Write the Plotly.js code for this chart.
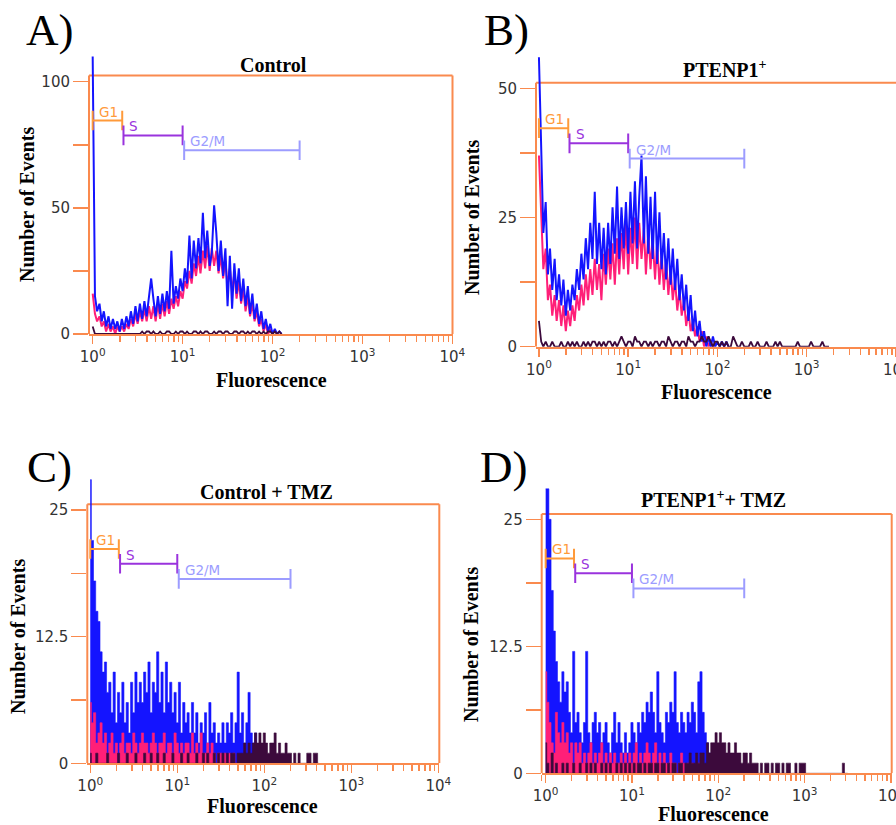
<!DOCTYPE html>
<html><head><meta charset="utf-8">
<script src="https://cdn.plot.ly/plotly-3.0.1.min.js"></script>
<style>html,body{margin:0;padding:0;background:#fff}#chart{width:896px;height:825px}</style>
</head><body><div id="chart"></div>
<script>
// Fluorescence channel positions (shared bins)
const fluorBins = [1.00,1.06,1.12,1.19,1.26,1.33,1.41,1.50,1.58,1.68,
1.78,1.88,2.00,2.11,2.24,2.37,2.51,2.66,2.82,2.99,
3.16,3.35,3.55,3.76,3.98,4.22,4.47,4.73,5.01,5.31,
5.62,5.96,6.31,6.68,7.08,7.50,7.94,8.41,8.91,9.44,
10.0,10.6,11.2,11.9,12.6,13.3,14.1,15.0,15.8,16.8,
17.8,18.8,20.0,21.1,22.4,23.7,25.1,26.6,28.2,29.9,
31.6,33.5,35.5,37.6,39.8,42.2,44.7,47.3,50.1,53.1,
56.2,59.6,63.1,66.8,70.8,75.0,79.4,84.1,89.1,94.4,
100,106,112,119,126,133,141,150,158,168,
178,188,200,211,224,237,251,266,282,299,
316,335,355,376,398,422,447,473,501,531,
562,596,631,668,708,750,794,841,891,944,
1000,1060,1120,1190,1260,1330,1410,1500,1580,1680,
1780,1880,2000,2110,2240,2370,2510,2660,2820,2990,
3160];

// Panel A: Control
const blueA = [110,15,9,12,5,9,3,7,2,6,
2,5,1,6,2,7,3,9,4,11,
5,12,6,13,7,14,22,14,7,15,
8,16,9,17,10,33,12,19,14,22,
17,26,20,39,22,37,26,38,28,48,
30,41,27,32,51,40,25,37,23,34,
11,31,10,28,16,26,13,22,11,19,
8,16,6,12,4,9,2,6,1,4,
0,2,0,1,0];
const pinkA = [16,8,5,7,3,5,1,4,1,3,
0,3,1,3,1,4,2,6,3,8,
4,9,5,10,5,11,6,11,5,12,
6,12,7,13,8,14,10,15,11,17,
14,21,18,25,20,28,23,31,24,33,
26,35,25,34,27,33,24,31,22,29,
19,26,17,24,14,21,12,18,9,15,
7,12,5,9,3,6,1,4,0,2,
0];
const purpleA = [3,0,0,0,0,0,0,0,0,0,
0,0,0,0,0,0,0,0,0,0,
0,0,1,0,1,1,0,1,0,0,
1,0,0,1,1,0,0,1,0,1,
1,0,1,0,0,1,1,0,1,0,
1,1,0,0,1,0,1,1,0,1,
1,0,0,1,1,0,1,1,0,1,
0,1,1,0,1,0,1,0,1,1,
0,1,0,1,0];

// Panel B: PTENP1+
const blueB = [56,37,22,28,14,19,11,17,9,14,
8,13,6,11,7,12,9,15,11,18,
13,21,15,24,17,30,16,24,15,23,
14,24,16,27,18,31,17,27,19,28,
18,30,20,32,19,29,37,20,33,18,
29,17,30,16,26,15,22,13,21,12,
19,11,17,9,14,7,12,5,10,3,
7,2,5,1,3,0,2,0,2,0,
1,0,1,0,1,0];
const pinkB = [37,26,15,19,9,12,6,10,5,9,
4,8,3,7,4,8,5,10,7,12,
8,14,9,15,10,17,11,16,9,18,
12,19,13,20,12,21,14,22,15,24,
14,23,16,25,15,24,17,23,14,22,
15,21,13,20,12,18,11,17,10,15,
9,13,7,11,6,9,4,7,3,5,
2,4,1,3,0,2,0,1,0];
const purpleB = [5,1,0,1,0,0,1,0,0,0,
1,0,0,1,0,1,0,1,0,0,
1,0,1,0,1,1,0,1,0,1,
0,1,1,0,1,0,1,2,1,0,
1,1,0,2,1,1,0,1,1,0,
1,0,1,1,0,1,1,0,2,1,
0,1,1,0,1,1,0,2,1,1,
0,1,1,2,1,1,2,1,0,1,
1,0,1,0,1,0,0,2,1,0,
0,1,0,0,0,1,0,0,1,0,
0,0,1,0,0,0,1,0,1,0,
0,0,0,0,0,0,1,0,0,0,
0,0,1,0,0,0,0,1,0,0,
0];

// Panel C: Control + TMZ
const blueC = [28,22,18,15,14,11,9,10,7,8,
5,9,4,7,5,8,4,6,3,8,
5,9,6,8,6,9,7,10,5,8,
7,11,6,9,5,10,6,8,5,7,
4,8,3,6,4,5,3,6,3,5,
2,4,3,5,2,6,3,4,2,3,
2,4,2,4,3,5,2,4,9,3,
5,2,4,7,3,2,3,1,0];
const pinkC = [6,4,5,2,3,4,2,3,1,2,
3,1,2,0,2,3,1,2,2,1,
3,2,1,2,3,2,2,1,2,3,
2,1,2,2,3,1,2,2,1,3,
2,1,2,1,2,2,1,3,1,2,
1,3,1,1,2,1,2,1,0,1,
1,0,1,0,1,0,1,0,0];
const purpleC = [1,0,0,1,0,0,0,0,1,0,
0,0,0,1,0,0,0,1,0,0,
0,1,0,0,0,1,0,0,1,0,
0,1,0,0,1,0,0,0,1,0,
0,0,1,0,0,1,0,0,0,1,
0,0,1,0,1,0,0,1,0,1,
0,1,0,1,0,1,1,0,1,1,
1,2,1,2,1,2,3,2,3,2,
3,2,1,2,2,3,1,2,1,1,
2,1,1,0,1,0,1,0,0,0,
1,1,0,1,1,0];

// Panel D: PTENP1+ + TMZ
const blueD = [28,28,25,18,14,11,9,7,10,8,
9,6,4,12,5,6,4,3,5,12,
4,3,5,6,4,5,3,4,5,3,
2,4,6,3,5,3,2,4,2,3,
5,4,3,5,4,6,5,7,6,8,
6,4,10,5,4,3,6,5,7,6,
10,5,4,6,5,4,6,5,7,6,
4,9,10,6,4,3,2,1,2,1,
0,1,0];
const pinkD = [10,7,5,3,2,6,4,3,5,3,
4,2,3,1,3,2,3,1,2,1,
2,3,1,2,1,2,3,1,2,1,
2,1,2,1,1,2,1,2,1,2,
1,2,3,1,2,1,2,3,2,1,
2,3,1,2,1,2,1,1,2,1,
1,0,1,2,1,0,1,0,1,0,
0,1,0];
const purpleD = [3,1,0,2,0,1,0,0,1,0,
1,0,0,1,0,0,1,0,0,1,
0,1,0,1,0,0,1,0,1,0,
1,0,0,1,0,1,0,1,0,1,
0,1,0,1,1,0,1,0,1,1,
0,1,1,0,1,1,0,1,0,1,
1,0,1,1,0,1,1,2,1,1,
2,1,2,2,1,3,2,3,3,4,
3,4,3,3,2,3,2,2,3,2,
2,1,2,2,1,2,1,1,1,0,
1,0,1,1,0,1,0,1,1,0,
1,0,1,1,0,0,1,0,1,1,
1,0,0,0,0,0,0,0,0,0,
0,0,0,0,0,0,0,0,1,0,
0];

// Gates
const gateNames = ['G1','S','G2/M'];
const gateStarts = [1.0, 2.2, 10.4];
const gateEnds = [2.13, 10.0, 200];
const gateLevelsA = [84.6, 78.7, 72.8];
const gateLevelsB = [42.3, 39.35, 36.4];
const gateLevelsC = [21.15, 19.7, 18.2];
const gateLevelsD = [21.15, 19.7, 18.2];

// Tick labels
const xTickVals = [1,10,100,1000,10000];
const xTickText = ['10<sup>0</sup>','10<sup>1</sup>','10<sup>2</sup>','10<sup>3</sup>','10<sup>4</sup>'];
const yTickValsA = [0,50,100], yTickTextA = ['0','50','100'];
const yTickValsB = [0,25,50], yTickTextB = ['0','25','50'];
const yTickValsC = [0,12.5,25], yTickTextC = ['0','12.5','25'];
const yTickValsD = [0,12.5,25], yTickTextD = ['0','12.5','25'];

const panelTitles = ['<b>Control</b>','<b>PTENP1<sup>+</sup></b>','<b>Control + TMZ</b>','<b>PTENP1<sup>+</sup>+ TMZ</b>'];
const panelLetters = ['A)','B)','C)','D)'];

// Styling
const ORANGE = '#fa8a4e';
const BLUE = '#1414ff';
const PINK = '#ff1f78';
const PURPLE = '#3c0a3c';
const gateColors = ['#ff9a3a','#9a33dd','#9c9cff'];
const W = 896, H = 825;

const panels = [
  {blue: blueA, pink: pinkA, purple: purpleA, gates: gateLevelsA, yv: yTickValsA, yt: yTickTextA, ystep:25,
   xd:[89,452.5], xr:[-0.041,4.001], y0:334, ytop:51.4, yr:112, box:102.4, right:true, filled:false,
   title:[273,65], letter:[49.5,30], ytitle:[27,205], xtitle:[271,380]},
  {blue: blueB, pink: pinkB, purple: purpleB, gates: gateLevelsB, yv: yTickValsB, yt: yTickTextB, ystep:12.5,
   xd:[536,896], xr:[-0.033,4.001], y0:346.7, ytop:47.0, yr:58, box:51.1, right:false, filled:false,
   title:[725,69], letter:[506,30], ytitle:[472,218], xtitle:[716,392]},
  {blue: blueC, pink: pinkC, purple: purpleC, gates: gateLevelsC, yv: yTickValsC, yt: yTickTextC, ystep:6.25,
   xd:[87.3,439.3], xr:[-0.034,4.011], y0:763.3, ytop:469.5, yr:29, box:25.56, right:true, filled:true,
   title:[266,492], letter:[49.5,467], ytitle:[18,637], xtitle:[262,806]},
  {blue: blueD, pink: pinkD, purple: purpleD, gates: gateLevelsD, yv: yTickValsD, yt: yTickTextD, ystep:6.25,
   xd:[541.7,891.7], xr:[-0.046,4.01], y0:773.3, ytop:478.7, yr:29, box:25.52, right:true, filled:true,
   title:[713,499], letter:[503,467], ytitle:[471,645], xtitle:[713,814]}
];

const traces = [];
const layout = {
  width: W, height: H, margin:{l:0,r:0,t:0,b:0},
  paper_bgcolor:'#fff', plot_bgcolor:'rgba(0,0,0,0)', showlegend:false,
  shapes: [], annotations: []
};
const tickFont = {family:'DejaVu Sans, Verdana, sans-serif', size:15, color:'#333'};
const serif = 'Liberation Serif, Times New Roman, serif';

panels.forEach((p, k) => {
  const n = k + 1;
  const xa = 'x' + (n === 1 ? '' : n), ya = 'y' + (n === 1 ? '' : n);
  const xk = 'xaxis' + (n === 1 ? '' : n), yk = 'yaxis' + (n === 1 ? '' : n);
  const mk = (y, color, w) => ({
    type:'scatter', x: fluorBins, y: y, xaxis: xa, yaxis: ya, mode:'lines',
    line:{color: color, width: p.filled ? 0.6 : w, shape: p.filled ? 'hvh' : 'linear'},
    fill: p.filled ? 'tozeroy' : 'none', fillcolor: color, hoverinfo:'skip'
  });
  if (p.filled) { traces.push(mk(p.blue, BLUE), mk(p.pink, PINK), mk(p.purple, PURPLE)); }
  else { traces.push(mk(p.pink, PINK, 2), mk(p.blue, BLUE, 2), mk(p.purple, PURPLE, 1.8)); }
  // gates
  gateNames.forEach((g, j) => {
    traces.push({type:'scatter', x:[gateStarts[j], gateEnds[j]], y:[p.gates[j], p.gates[j]],
      xaxis: xa, yaxis: ya, mode:'lines+markers', hoverinfo:'skip',
      line:{color: gateColors[j], width:2},
      marker:{symbol:'line-ns-open', size:14, line:{color: gateColors[j], width:2}}});
    layout.annotations.push({xref: xa, yref: ya, x: Math.log10(gateStarts[j]), y: p.gates[j],
      text: g, showarrow:false, xanchor:'left', yanchor:'bottom', xshift:4, yshift:-1,
      font:{family:'DejaVu Sans, Verdana, sans-serif', size:13.5, color: gateColors[j]}});
  });
  layout[xk] = {type:'log', domain:[p.xd[0]/W, p.xd[1]/W], range: p.xr, anchor: ya,
    tickmode:'array', tickvals: xTickVals, ticktext: xTickText, ticks:'outside', ticklen:8,
    tickwidth:1.5, tickcolor: ORANGE, showline:true, linecolor: ORANGE, linewidth:2,
    showgrid:false, zeroline:false, tickfont: tickFont, ticklabeloverflow:'allow',
    minor:{ticks:'outside', ticklen:6, tickwidth:1.5, tickcolor: ORANGE, dtick:'D1', showgrid:false}};
  layout[yk] = {domain:[1 - p.y0/H, 1 - p.ytop/H], range:[0, p.yr], anchor: xa,
    tickmode:'array', tickvals: p.yv, ticktext: p.yt, ticks:'outside', ticklen:15,
    tickwidth:1.5, tickcolor: ORANGE, showline:false, showgrid:false, zeroline:false, tickfont: tickFont,
    minor:{ticks:'outside', ticklen:15, tickwidth:1.5, tickcolor: ORANGE, tick0:0, dtick:p.ystep, showgrid:false}};
  const dref = xa + ' domain';
  const ln = {color: ORANGE, width: 2};
  layout.shapes.push({type:'line', xref: dref, yref: ya, x0:0, x1:0, y0:0, y1:p.box, line: ln, layer:'below'});
  layout.shapes.push({type:'line', xref: dref, yref: ya, x0:0, x1:1, y0:p.box, y1:p.box, line: ln, layer:'below'});
  if (p.right) layout.shapes.push({type:'line', xref: dref, yref: ya, x0:1, x1:1, y0:0, y1:p.box, line: ln, layer:'below'});
  const ann = (pos, text, size, extra) => Object.assign({xref:'paper', yref:'paper', x: pos[0]/W, y: 1 - pos[1]/H,
    text: text, showarrow:false, xanchor:'center', yanchor:'middle',
    font:{family: serif, size: size, color:'#000'}}, extra || {});
  layout.annotations.push(ann(p.title, panelTitles[k], 20));
  layout.annotations.push(ann(p.letter, panelLetters[k], 45));
  layout.annotations.push(ann(p.ytitle, '<b>Number of Events</b>', 20, {textangle:-90}));
  layout.annotations.push(ann(p.xtitle, '<b>Fluorescence</b>', 20));
});

Plotly.newPlot('chart', traces, layout, {staticPlot:true, displayModeBar:false});
</script></body></html>
